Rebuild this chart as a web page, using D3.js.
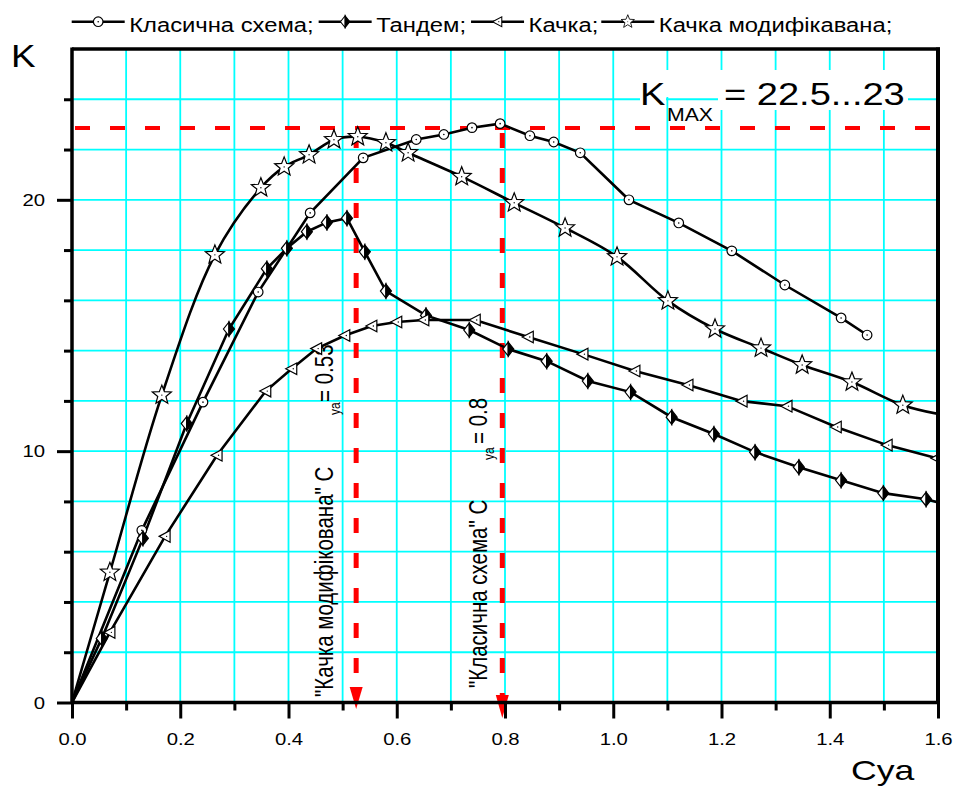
<!DOCTYPE html>
<html><head><meta charset="utf-8">
<script src="https://cdn.jsdelivr.net/npm/d3@7"></script>
<style>
html,body{margin:0;padding:0;background:#fff;}
svg{display:block;font-family:"Liberation Sans",Arial,sans-serif;}
</style></head>
<body>
<svg id="chart" width="954" height="787"></svg>
<script>
// ---------- data ----------
const seriesNames = ["Класична схема;", "Тандем;", "Качка;", "Качка модифікавана;"];
const cyaClassic = [0, 0.129, 0.242, 0.344, 0.44, 0.538, 0.636, 0.687, 0.739, 0.791, 0.846, 0.89, 0.939, 1.029, 1.121, 1.219, 1.317, 1.421, 1.469];
const kClassic   = [0, 6.85, 11.95, 16.33, 19.48, 21.67, 22.4, 22.6, 22.87, 23.03, 22.55, 22.3, 21.87, 20.0, 19.08, 17.97, 16.61, 15.3, 14.62];
const cyaTandem  = [0, 0.055, 0.131, 0.212, 0.29, 0.36, 0.397, 0.434, 0.471, 0.508, 0.541, 0.58, 0.654, 0.734, 0.806, 0.877, 0.953, 1.032, 1.108, 1.186, 1.262, 1.343, 1.421, 1.499, 1.578, 1.62];
const kTandem    = [0, 2.55, 6.53, 11.1, 14.86, 17.26, 18.07, 18.73, 19.1, 19.27, 17.93, 16.37, 15.4, 14.82, 14.06, 13.58, 12.79, 12.35, 11.35, 10.68, 9.96, 9.36, 8.84, 8.33, 8.09, 7.85];
const cyaCanard  = [0, 0.07, 0.172, 0.268, 0.358, 0.406, 0.452, 0.504, 0.554, 0.60, 0.65, 0.745, 0.843, 0.944, 1.04, 1.138, 1.238, 1.321, 1.412, 1.506, 1.598];
const kCanard    = [0, 2.79, 6.61, 9.84, 12.39, 13.28, 14.08, 14.6, 14.98, 15.14, 15.22, 15.22, 14.54, 13.86, 13.19, 12.63, 11.99, 11.79, 10.96, 10.24, 9.72];
const cyaCanardMod = [0, 0.07, 0.166, 0.264, 0.349, 0.392, 0.438, 0.484, 0.528, 0.58, 0.621, 0.72, 0.817, 0.911, 1.007, 1.101, 1.188, 1.273, 1.349, 1.441, 1.535, 1.62];
const kCanardMod   = [0, 5.18, 12.23, 17.81, 20.48, 21.31, 21.79, 22.39, 22.51, 22.27, 21.87, 20.92, 19.88, 18.88, 17.73, 15.98, 14.86, 14.1, 13.43, 12.75, 11.83, 11.4];
const xMajorTicks = [0, 0.2, 0.4, 0.6, 0.8, 1.0, 1.2, 1.4, 1.6];
const xMinorTicks = [0.1, 0.3, 0.5, 0.7, 0.9, 1.1, 1.3, 1.5];
const yMajorTicks = [0, 10, 20];
const yMinorTicks = [2, 4, 6, 8, 12, 14, 16, 18, 22, 24];
const kMax = 22.86;
const cyaOptMod = 0.525, cyaOptClassic = 0.795;

// ---------- layout ----------
const svg = d3.select("#chart");
const L = 72, R = 938, T = 49, B = 702.5;
const x = d3.scaleLinear().domain([0, 1.6]).range([L, R]);
const y = d3.scaleLinear().domain([0, 26]).range([B, T]);
const SX = 1.27; // horizontal stretch of the reference lettering

svg.append("defs").append("clipPath").attr("id", "clip")
  .append("rect").attr("x", L).attr("y", T).attr("width", R - L).attr("height", B - T);

// grid
const grid = svg.append("g").attr("stroke", "#00ffff").attr("stroke-width", 1.8);
d3.range(1, 16).map(i => i / 10).forEach(v => {
  grid.append("line").attr("x1", x(v)).attr("x2", x(v)).attr("y1", T).attr("y2", B);
});
d3.range(2, 26, 2).forEach(v => {
  grid.append("line").attr("x1", L).attr("x2", R).attr("y1", y(v)).attr("y2", y(v));
});

// white boxes behind Kmax label
svg.append("rect").attr("x", 640).attr("y", 70).attr("width", 268).attr("height", 27).attr("fill", "#fff");
svg.append("rect").attr("x", 640).attr("y", 96).attr("width", 26).attr("height", 10).attr("fill", "#fff");
svg.append("rect").attr("x", 718).attr("y", 96).attr("width", 190).attr("height", 14).attr("fill", "#fff");

// red reference lines
const red = svg.append("g");
red.append("line").attr("x1", L + 3).attr("x2", R).attr("y1", y(kMax)).attr("y2", y(kMax))
  .attr("stroke", "#ff0000").attr("stroke-width", 4).attr("stroke-dasharray", "15,20");
[[cyaOptMod, 687, 709], [cyaOptClassic, 695, 718]].forEach(([v, base, tip]) => {
  red.append("line").attr("x1", x(v)).attr("x2", x(v)).attr("y1", y(kMax) + 5).attr("y2", base)
    .attr("stroke", "#ff0000").attr("stroke-width", 5).attr("stroke-dasharray", "15,20");
  red.append("path").attr("d", `M${x(v) - 6.5},${base} L${x(v) + 6.5},${base} L${x(v)},${tip} Z`)
    .attr("fill", "#ff0000");
});

// rotated annotations
function rtext(tx, ty, str, fs) {
  svg.append("text").attr("transform", `translate(${tx},${ty}) scale(${SX},1) rotate(-90)`)
    .attr("font-size", fs).attr("fill", "#000").text(str);
}
rtext(333, 697, "\"Качка модифікована\" C", 20.5);
rtext(339.5, 415, "ya", 12);
rtext(333, 402, "= 0.53", 20.5);
rtext(487, 688, "\"Класична схема\" C", 20.5);
rtext(493.5, 460, "ya", 12);
rtext(487, 444, "= 0.8", 20.5);

// series
const plot = svg.append("g").attr("clip-path", "url(#clip)");
const series = [
  {xs: cyaClassic, ks: kClassic, marker: "circle", curve: d3.curveLinear},
  {xs: cyaTandem, ks: kTandem, marker: "diamond", curve: d3.curveLinear},
  {xs: cyaCanard, ks: kCanard, marker: "triangle", curve: d3.curveLinear},
  {xs: cyaCanardMod, ks: kCanardMod, marker: "star", curve: d3.curveCatmullRom.alpha(0.5)}
];

function starPath(ro, ri) {
  let p = "";
  for (let i = 0; i < 10; i++) {
    const a = -Math.PI / 2 + i * Math.PI / 5;
    const r = i % 2 ? ri : ro;
    p += (i ? "L" : "M") + (r * Math.cos(a)).toFixed(2) + "," + (r * Math.sin(a)).toFixed(2);
  }
  return p + "Z";
}
function drawMarker(g, type, cx, cy) {
  const m = g.append("g").attr("transform", `translate(${cx},${cy})`);
  if (type === "circle") {
    m.append("circle").attr("r", 4.8).attr("fill", "#fff").attr("stroke", "#000").attr("stroke-width", 1.2);
    m.append("circle").attr("r", 0.8).attr("fill", "#000");
  } else if (type === "diamond") {
    m.append("path").attr("d", "M0,-7 L-5.5,0 L0,7 Z").attr("fill", "#fff").attr("stroke", "#000").attr("stroke-width", 1.2);
    m.append("path").attr("d", "M0,-7 L5.5,0 L0,7 Z").attr("fill", "#000").attr("stroke", "#000").attr("stroke-width", 1.2);
  } else if (type === "triangle") {
    m.append("path").attr("d", "M-6,0 L5,-5.8 L5,5.8 Z").attr("fill", "#fff").attr("stroke", "#000").attr("stroke-width", 1.2);
    m.append("circle").attr("cx", 1.5).attr("r", 0.7).attr("fill", "#000");
  } else if (type === "star") {
    m.append("path").attr("d", starPath(10, 4.3)).attr("fill", "#fff").attr("stroke", "#000").attr("stroke-width", 1.2);
    m.append("circle").attr("r", 0.7).attr("fill", "#000");
  }
}

series.forEach(s => {
  const pts = s.xs.map((v, i) => [v, s.ks[i]]);
  plot.append("path").datum(pts)
    .attr("d", d3.line().x(d => x(d[0])).y(d => y(d[1])).curve(s.curve))
    .attr("fill", "none").attr("stroke", "#000").attr("stroke-width", 2.6);
});
series.forEach(s => {
  s.xs.forEach((v, i) => { if (v > 0) drawMarker(plot, s.marker, x(v), y(s.ks[i])); });
});

// axes
const ax = svg.append("g");
const xMinor = ax.append("g").attr("transform", `translate(0,${B})`)
  .call(d3.axisBottom(x).tickValues(xMinorTicks).tickSize(8).tickFormat(""));
const xMajor = ax.append("g").attr("transform", `translate(0,${B})`)
  .call(d3.axisBottom(x).tickValues(xMajorTicks).tickSize(16).tickFormat(d3.format(".1f")));
const yMinor = ax.append("g").attr("transform", `translate(${L},0)`)
  .call(d3.axisLeft(y).tickValues(yMinorTicks).tickSize(8).tickFormat(""));
const yMajor = ax.append("g").attr("transform", `translate(${L},0)`)
  .call(d3.axisLeft(y).tickValues(yMajorTicks).tickSize(15).tickFormat(d3.format("d")));
[xMinor, xMajor, yMinor, yMajor].forEach(g => {
  g.select(".domain").remove();
  g.selectAll(".tick line").attr("stroke", "#000").attr("stroke-width", 3);
});
xMajor.selectAll(".tick text").attr("y", 42.5).attr("dy", null)
  .attr("font-size", 16).attr("font-family", "Liberation Sans, Arial, sans-serif").attr("fill", "#000")
  .attr("transform", `scale(${SX},1)`);
yMajor.selectAll(".tick text").attr("x", -27 / SX).attr("dy", "0.36em")
  .attr("font-size", 16).attr("font-family", "Liberation Sans, Arial, sans-serif").attr("fill", "#000")
  .attr("transform", `scale(${SX},1)`);

// frame
ax.append("line").attr("x1", L).attr("x2", L).attr("y1", T - 1.5).attr("y2", B + 1.5).attr("stroke", "#000").attr("stroke-width", 3.5);
ax.append("line").attr("x1", L).attr("x2", R + 2).attr("y1", B).attr("y2", B).attr("stroke", "#000").attr("stroke-width", 3.5);
ax.append("line").attr("x1", L).attr("x2", R + 2).attr("y1", T).attr("y2", T).attr("stroke", "#000").attr("stroke-width", 3.5);
ax.append("line").attr("x1", R).attr("x2", R).attr("y1", T - 1.5).attr("y2", B + 1.5).attr("stroke", "#000").attr("stroke-width", 4);

// axis titles
function htext(tx, ty, str, fs, sx) {
  return svg.append("text").attr("transform", `translate(${tx},${ty}) scale(${sx},1)`)
    .attr("font-size", fs).attr("fill", "#000").text(str);
}
htext(11, 67, "K", 30.7, 1.2);
htext(851, 780, "Cya", 28, SX);
htext(640, 105, "K", 31.7, 1.2);
htext(667, 120.7, "MAX", 17.7, 1.2);
htext(724, 105, "= 22.5...23", 31.7, 1.2);

// legend
const legend = svg.append("g");
const legendMarkers = ["circle", "diamond", "triangle", "star"];
let lx = 71.7;
const ly = 21.7, lsx = 1.19;
seriesNames.forEach((name, i) => {
  legend.append("line").attr("x1", lx).attr("x2", lx + 53).attr("y1", ly).attr("y2", ly)
    .attr("stroke", "#000").attr("stroke-width", 2.6);
  const mg = legend.append("g");
  drawMarker(mg, legendMarkers[i], lx + 26.5, ly);
  if (legendMarkers[i] === "star") mg.select("g").attr("transform", `translate(${lx + 26.5},${ly}) scale(0.7)`);
  if (legendMarkers[i] === "diamond") mg.select("g").attr("transform", `translate(${lx + 26.5},${ly}) scale(0.85)`);
  if (legendMarkers[i] === "triangle") mg.select("g").attr("transform", `translate(${lx + 26.5},${ly}) scale(0.85)`);
  const t = htext(lx + 57.5, 31.5, name, 20, lsx);
  lx = lx + 57.5 + t.node().getComputedTextLength() * lsx + (i === 2 ? 3 : 5);
});
</script>
</body></html>
